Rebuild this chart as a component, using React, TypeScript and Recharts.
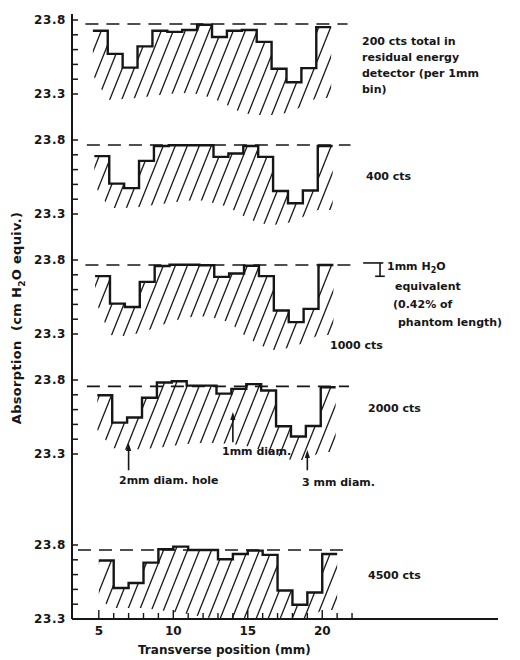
import { ComposedChart, Area, Line, XAxis, YAxis, ReferenceLine } from 'recharts';

const INK = '#161616';
const FONT = '"DejaVu Sans", sans-serif';

// 1 mm bins, left edge of each bin (mm)
const binLeftMm = [5, 6, 7, 8, 9, 10, 11, 12, 13, 14, 15, 16, 17, 18, 19, 20];
const BIN_MM = 1;

// measured absorption per bin (cm H2O equiv.), one list per count level
const abs200 = [23.727, 23.571, 23.478, 23.622, 23.727, 23.72, 23.732, 23.768, 23.685, 23.727, 23.732, 23.652, 23.471, 23.379, 23.475, 23.752];
const abs400 = [23.691, 23.505, 23.475, 23.659, 23.759, 23.764, 23.764, 23.764, 23.686, 23.709, 23.759, 23.686, 23.455, 23.373, 23.459, 23.759];
const abs1000 = [23.691, 23.505, 23.482, 23.652, 23.759, 23.768, 23.768, 23.764, 23.686, 23.709, 23.761, 23.691, 23.459, 23.38, 23.47, 23.766];
const abs2000 = [23.697, 23.512, 23.547, 23.68, 23.783, 23.792, 23.762, 23.762, 23.708, 23.74, 23.772, 23.729, 23.487, 23.418, 23.489, 23.751];
const abs4500 = [23.695, 23.509, 23.543, 23.681, 23.771, 23.789, 23.766, 23.766, 23.704, 23.739, 23.762, 23.733, 23.493, 23.396, 23.479, 23.739];

// lower end of the hatching under each bin
const floor200 = [23.428, 23.26, 23.266, 23.273, 23.286, 23.3, 23.307, 23.3, 23.273, 23.226, 23.172, 23.158, 23.158, 23.172, 23.212, 23.273];
const floor400 = [23.496, 23.341, 23.341, 23.347, 23.361, 23.374, 23.388, 23.395, 23.374, 23.347, 23.286, 23.239, 23.226, 23.239, 23.28, 23.327];
const floor1000 = [23.53, 23.293, 23.286, 23.307, 23.341, 23.381, 23.408, 23.422, 23.408, 23.381, 23.293, 23.226, 23.192, 23.205, 23.239, 23.293];
const floor2000 = [23.462, 23.341, 23.327, 23.334, 23.341, 23.354, 23.368, 23.374, 23.374, 23.368, 23.354, 23.327, 23.293, 23.259, 23.259, 23.314];
const floor4500 = [23.428, 23.374, 23.374, 23.374, 23.361, 23.347, 23.334, 23.314, 23.3, 23.3, 23.3, 23.3, 23.3, 23.3, 23.3, 23.36];

// small sideways drift of each trace as drawn (mm)
const panelDriftMm = [-0.4, -0.3, -0.25, -0.1, 0];
// dashed nominal level and its extent
const refLevel = [23.773, 23.766, 23.766, 23.757, 23.766];
const refFromMm = [4.1, 4.2, 4.1, 4.2, 3.6];
const refToMm = [21.7, 21.9, 22.4, 21.8, 21.7];

const yTicks = [23.3, 23.4, 23.5, 23.6, 23.7, 23.8];
const yLabelled = [23.3, 23.8];
const xTicks = [5, 6, 7, 8, 9, 10, 11, 12, 13, 14, 15, 16, 17, 18, 19, 20, 21, 22];
const xLabelled = [5, 10, 15, 20];

// hole markers in the 2000 cts panel
const holeMm = [7, 14, 19];
const holeArrowTip = [23.374, 23.584, 23.327];
const holeArrowTail = [23.19, 23.38, 23.19];

// layout
const PX_PER_CM = 148;
const Y_TOP = 23.8405;
const PLOT_LEFT = 72;
const X_DOMAIN: [number, number] = [3.2, 31.8];
const panelTop = [14, 134, 254, 374, 539];
const panelPlotHeight = [120, 120, 120, 165, 80];

function buildRows(drift: number, values: number[], floor: number[]) {
  const rows: { x: number; top: number; band: [number, number] }[] = [];
  values.forEach((v, i) => {
    const left = binLeftMm[i] + drift;
    const fl = floor[i];
    const fr = i + 1 < floor.length ? floor[i + 1] : floor[i];
    rows.push({ x: left, top: v, band: [fl, v] });
    rows.push({ x: left + BIN_MM, top: v, band: [fr, v] });
  });
  return rows;
}

const YTick = (props: any) => {
  const { y, payload } = props;
  const v = payload.value;
  const major = yLabelled.some((t) => Math.abs(t - v) < 1e-6);
  return (
    <g>
      <line x1={PLOT_LEFT} x2={PLOT_LEFT + 6} y1={y} y2={y} stroke={INK} strokeWidth={1.5} />
      {major && (
        <text x={PLOT_LEFT - 6} y={y} dy="0.36em" textAnchor="end" fontFamily={FONT} fontSize={12} fontWeight={700} fill={INK} letterSpacing={0.6}>
          {v.toFixed(1)}
        </text>
      )}
    </g>
  );
};

const XTick = (props: any) => {
  const { x, y, payload } = props;
  const v = payload.value;
  const major = xLabelled.includes(v);
  return (
    <g>
      <line x1={x} x2={x} y1={y} y2={y - (major ? 9 : 6)} stroke={INK} strokeWidth={1.4} />
      {major && (
        <text x={x} y={y + 12} dy="0.36em" textAnchor="middle" fontFamily={FONT} fontSize={12} fontWeight={700} fill={INK}>
          {v}
        </text>
      )}
    </g>
  );
};

const arrowShape = (p: any) => {
  const top = Math.min(p.y1, p.y2);
  const bottom = Math.max(p.y1, p.y2);
  const x = p.x1;
  return (
    <g>
      <line x1={x} x2={x} y1={top + 5} y2={bottom} stroke={INK} strokeWidth={1.6} />
      <path d={`M${x - 2.6},${top + 8} L${x},${top} L${x + 2.6},${top + 8} Z`} fill={INK} />
    </g>
  );
};

interface PanelProps {
  index: number;
  values: number[];
  floor: number[];
  showX?: boolean;
  children?: any;
}

const Panel = ({ index, values, floor, showX, children }: PanelProps) => {
  const h = panelPlotHeight[index];
  const lo = Y_TOP - h / PX_PER_CM;
  const rows = buildRows(panelDriftMm[index], values, floor);
  const hatchId = `hatch${index}`;
  return (
    <div style={{ position: 'absolute', left: 0, top: panelTop[index] }}>
      <ComposedChart width={520} height={h + (showX ? 40 : 0)} data={rows} margin={{ top: 0, right: 22, bottom: 0, left: 32 }}>
        <defs>
          <pattern id={hatchId} patternUnits="userSpaceOnUse" width={12} height={30}>
            <line x1={0} y1={30} x2={12} y2={0} stroke={INK} strokeWidth={1.3} />
            <line x1={-2} y1={5} x2={2} y2={-5} stroke={INK} strokeWidth={1.3} />
            <line x1={10} y1={35} x2={14} y2={25} stroke={INK} strokeWidth={1.3} />
          </pattern>
        </defs>
        <XAxis
          type="number"
          dataKey="x"
          domain={X_DOMAIN}
          allowDataOverflow
          hide={!showX}
          ticks={xTicks}
          interval={0}
          height={40}
          axisLine={{ stroke: INK, strokeWidth: 2 }}
          tickLine={false}
          tickSize={0}
          tickMargin={0}
          tick={XTick}
        />
        <YAxis
          type="number"
          domain={[lo, Y_TOP]}
          allowDataOverflow
          ticks={yTicks}
          interval={0}
          width={40}
          axisLine={{ stroke: INK, strokeWidth: 2 }}
          tickLine={false}
          tick={YTick}
        />
        <Area type="linear" dataKey="band" stroke="none" fill={`url(#${hatchId})`} fillOpacity={1} isAnimationActive={false} />
        <ReferenceLine
          segment={[{ x: refFromMm[index], y: refLevel[index] }, { x: refToMm[index], y: refLevel[index] }]}
          stroke={INK}
          strokeWidth={1.6}
          strokeDasharray="13 8"
        />
        <Line type="linear" dataKey="top" stroke={INK} strokeWidth={2.4} dot={false} isAnimationActive={false} />
        {children}
      </ComposedChart>
    </div>
  );
};

const textStyle = (left: number, centreY: number, size = 11): any => ({
  position: 'absolute',
  left,
  top: centreY - 7,
  lineHeight: '14px',
  fontSize: size,
  fontWeight: 700,
  fontFamily: FONT,
  color: INK,
  whiteSpace: 'nowrap',
});

export default function App() {
  return (
    <div style={{ position: 'absolute', left: 0, top: 0, width: 520, height: 660, background: '#fff', fontFamily: FONT }}>
      <Panel index={0} values={abs200} floor={floor200} />
      <Panel index={1} values={abs400} floor={floor400} />
      <Panel index={2} values={abs1000} floor={floor1000}>
        <ReferenceLine segment={[{ x: 22.75, y: 23.78 }, { x: 24.1, y: 23.78 }]} stroke={INK} strokeWidth={1.6} />
        <ReferenceLine segment={[{ x: 23.88, y: 23.78 }, { x: 23.88, y: 23.69 }]} stroke={INK} strokeWidth={1.6} />
        <ReferenceLine segment={[{ x: 23.55, y: 23.69 }, { x: 24.2, y: 23.69 }]} stroke={INK} strokeWidth={1.6} />
      </Panel>
      <Panel index={3} values={abs2000} floor={floor2000}>
        {holeMm.map((mm, i) => (
          <ReferenceLine
            key={mm}
            segment={[{ x: mm, y: holeArrowTail[i] }, { x: mm, y: holeArrowTip[i] }]}
            stroke={INK}
            shape={arrowShape}
          />
        ))}
      </Panel>
      <Panel index={4} values={abs4500} floor={floor4500} showX />

      <div style={textStyle(362, 42)}>200 cts total in</div>
      <div style={textStyle(362, 58)}>residual energy</div>
      <div style={textStyle(362, 74)}>detector (per 1mm</div>
      <div style={textStyle(362, 90)}>bin)</div>
      <div style={textStyle(366, 177)}>400 cts</div>
      <div style={textStyle(387, 267)}>1mm H<sub style={{ fontSize: 8 }}>2</sub>O</div>
      <div style={textStyle(395, 287)}>equivalent</div>
      <div style={textStyle(393, 305)}>(0.42% of</div>
      <div style={textStyle(398, 323)}>phantom length)</div>
      <div style={textStyle(330, 346)}>1000 cts</div>
      <div style={textStyle(368, 409)}>2000 cts</div>
      <div style={textStyle(119, 481)}>2mm diam. hole</div>
      <div style={textStyle(222, 452)}>1mm diam.</div>
      <div style={textStyle(302, 483)}>3 mm diam.</div>
      <div style={textStyle(368, 576)}>4500 cts</div>

      <div
        style={{
          position: 'absolute',
          left: 18,
          top: 318,
          transform: 'translate(-50%, -50%) rotate(-90deg)',
          fontSize: 13,
          fontWeight: 700,
          fontFamily: FONT,
          color: INK,
          whiteSpace: 'nowrap',
          letterSpacing: 0.3,
        }}
      >
        Absorption&nbsp; (cm H<sub style={{ fontSize: 9 }}>2</sub>O equiv.)
      </div>
      <div style={{ ...textStyle(138, 650, 12) }}>Transverse position (mm)</div>
    </div>
  );
}
